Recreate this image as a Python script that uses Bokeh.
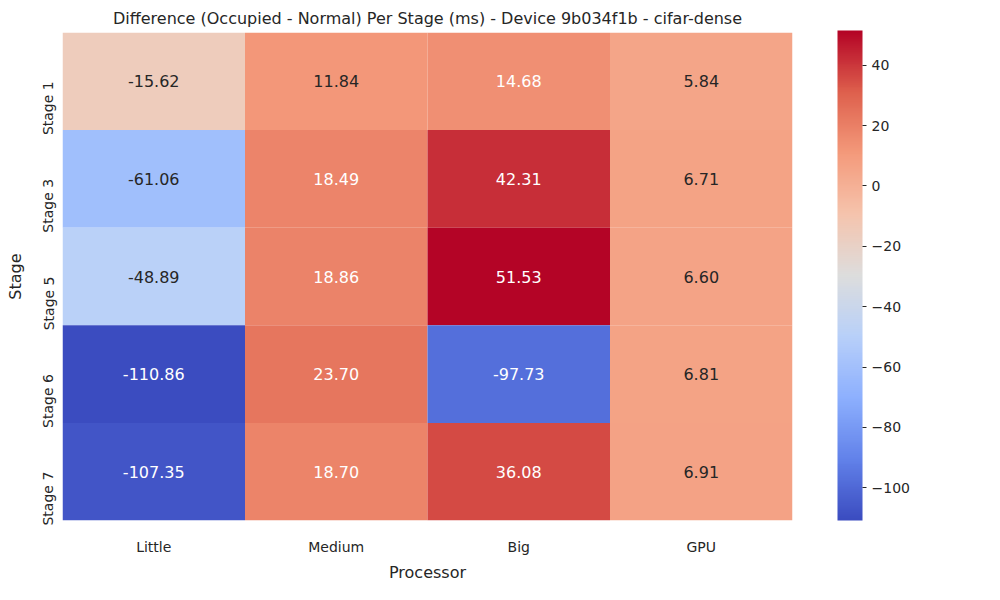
from bokeh.plotting import figure
from bokeh.models import LinearColorMapper, ColorBar, FixedTicker, ColumnDataSource
from bokeh.embed import file_html
from bokeh.resources import INLINE
import math

processors = ["Little", "Medium", "Big", "GPU"]
stages = ["Stage 1", "Stage 3", "Stage 5", "Stage 6", "Stage 7"]
values = [
    [-15.62, 11.84, 14.68, 5.84],
    [-61.06, 18.49, 42.31, 6.71],
    [-48.89, 18.86, 51.53, 6.60],
    [-110.86, 23.70, -97.73, 6.81],
    [-107.35, 18.70, 36.08, 6.91],
]
bar_ticks = [-100, -80, -60, -40, -20, 0, 20, 40]

# coolwarm anchors
anchors = [(59, 76, 192), (98, 130, 234), (141, 176, 254), (184, 208, 249),
           (221, 221, 221), (245, 196, 173), (244, 154, 123), (222, 96, 77), (180, 4, 38)]

def cw(t):
    t = min(max(t, 0), 1) * (len(anchors) - 1)
    i = min(int(t), len(anchors) - 2)
    f = t - i
    a, b = anchors[i], anchors[i + 1]
    return tuple(a[k] + (b[k] - a[k]) * f for k in range(3))

palette = ["#%02x%02x%02x" % tuple(int(round(c)) for c in cw(i / 255)) for i in range(256)]

flat = [v for row in values for v in row]
vmin, vmax = min(flat), max(flat)

def lum(rgb):
    out = []
    for c in rgb:
        c = c / 255
        out.append(c / 12.92 if c <= 0.03928 else ((c + 0.055) / 1.055) ** 2.4)
    return 0.2126 * out[0] + 0.7152 * out[1] + 0.0722 * out[2]

xs, ys, vs, fills, labels, tcol = [], [], [], [], [], []
for r, st in enumerate(stages):
    for c, pr in enumerate(processors):
        v = values[r][c]
        rgb = cw((v - vmin) / (vmax - vmin))
        xs.append(pr); ys.append(st); vs.append(v)
        fills.append("#%02x%02x%02x" % tuple(int(round(k)) for k in rgb))
        labels.append("%.2f" % v)
        tcol.append("#ffffff" if lum(rgb) <= 0.408 else "#262626")

src = ColumnDataSource(dict(x=xs, y=ys, v=vs, fill=fills, label=labels, tcol=tcol))

FONT = "DejaVu Sans"
p = figure(width=984, height=584, x_range=processors, y_range=list(reversed(stages)),
           output_backend="svg", toolbar_location=None,
           title="Difference (Occupied - Normal) Per Stage (ms) - Device 9b034f1b - cifar-dense",
           min_border_left=62, min_border_right=192, min_border_top=32, min_border_bottom=54)
p.rect("x", "y", 1, 1, source=src, fill_color="fill", line_color=None)
p.text("x", "y", text="label", source=src, text_color="tcol", text_align="center",
       text_baseline="middle", text_font_size="16px", text_font={"value": FONT})

p.title.align = "center"
p.title.text_font = FONT
p.title.text_font_size = "16px"
p.title.text_font_style = "normal"
p.title.text_color = "#262626"
p.outline_line_color = None
p.grid.visible = False
for ax in (p.xaxis, p.yaxis):
    ax.axis_line_color = None
    ax.major_tick_line_color = None
    ax.minor_tick_line_color = None
    ax.major_label_text_font = FONT
    ax.major_label_text_font_size = "14px"
    ax.major_label_text_color = "#262626"
    ax.axis_label_text_font = FONT
    ax.axis_label_text_font_size = "16px"
    ax.axis_label_text_font_style = "normal"
    ax.axis_label_text_color = "#262626"
p.xaxis.axis_label = "Processor"
p.yaxis.axis_label = "Stage"
p.yaxis.major_label_orientation = math.pi / 2
p.xaxis.major_label_standoff = 12
p.yaxis.major_label_standoff = 8

mapper = LinearColorMapper(palette=palette, low=vmin, high=vmax)
cb = ColorBar(color_mapper=mapper, ticker=FixedTicker(ticks=bar_ticks), width=25, height=490,
              location=(45, 0), padding=0, margin=0, bar_line_color=None,
              major_tick_line_color="#262626", major_tick_out=4, major_tick_in=0,
              major_label_text_font=FONT, major_label_text_font_size="14px",
              major_label_text_color="#262626",
              major_label_overrides={t: ("\u2212%d" % -t if t < 0 else str(t)) for t in bar_ticks})
p.add_layout(cb, "right")

open("out.html", "w").write(file_html(p, INLINE))
